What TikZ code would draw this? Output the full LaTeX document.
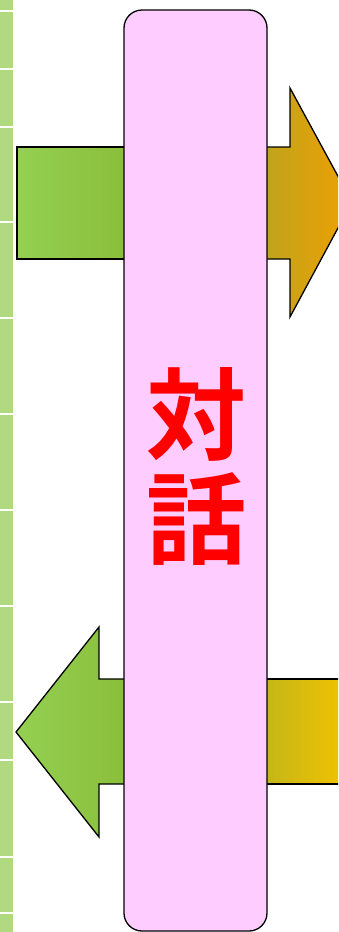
\documentclass[tikz,border=0pt]{standalone}
\usepackage{fontspec}
\newfontfamily\cjk{Noto Sans CJK JP}[BoldFont={Noto Sans CJK JP Bold}]
\usepackage{tikz}
\definecolor{stripgreen}{RGB}{177,218,128}
\definecolor{boxpink}{RGB}{255,204,255}
\definecolor{lightgreen}{RGB}{148,208,82}
\definecolor{darkgreen}{RGB}{138,190,58}
\definecolor{olive}{RGB}{190,164,30}
\definecolor{orange}{RGB}{240,160,0}
\definecolor{olivey}{RGB}{194,182,26}
\definecolor{gold}{RGB}{242,194,0}

\begin{document}
\begin{tikzpicture}[x=1pt,y=-1pt]

\useasboundingbox (0,0) rectangle (338,932);
\clip (0,0) rectangle (338,932);

% green strip on the left
\foreach \ya/\yb in {0/10,12/68,70/126,128/221,223/317,319/413,415/509,511/605,607/701,703/759,761/856,858/912,914/932}
  \fill[stripgreen] (0,\ya) rectangle (13,\yb);

% upper arrow
\draw[line width=1.3pt,left color=lightgreen,right color=darkgreen] (17,147) rectangle (130,259);
\draw[line width=1.3pt,left color=olive,right color=orange,line join=miter]
  (262,147) -- (290,147) -- (290,88) -- (352,202) -- (290,317) -- (290,259) -- (262,259) -- cycle;

% lower arrow
\draw[line width=1.3pt,left color=lightgreen,right color=darkgreen,line join=miter]
  (130,679) -- (99,679) -- (99,627) -- (16,732) -- (99,837) -- (99,784) -- (130,784) -- cycle;
\draw[line width=1.3pt,left color=olivey,right color=gold] (262,679) rectangle (345,784);

% the box in the middle
\coordinate (boxtop) at (124,10);
\coordinate (boxbottom) at (267,931);
\draw[line width=1.3pt,fill=boxpink,rounded corners=18pt] (boxtop) rectangle (boxbottom);

\node (talk) at (196,466) [text=red,align=center,font=\cjk\bfseries\fontsize{100pt}{104pt}\selectfont,inner sep=0pt] {対\\話};

\end{tikzpicture}
\end{document}
